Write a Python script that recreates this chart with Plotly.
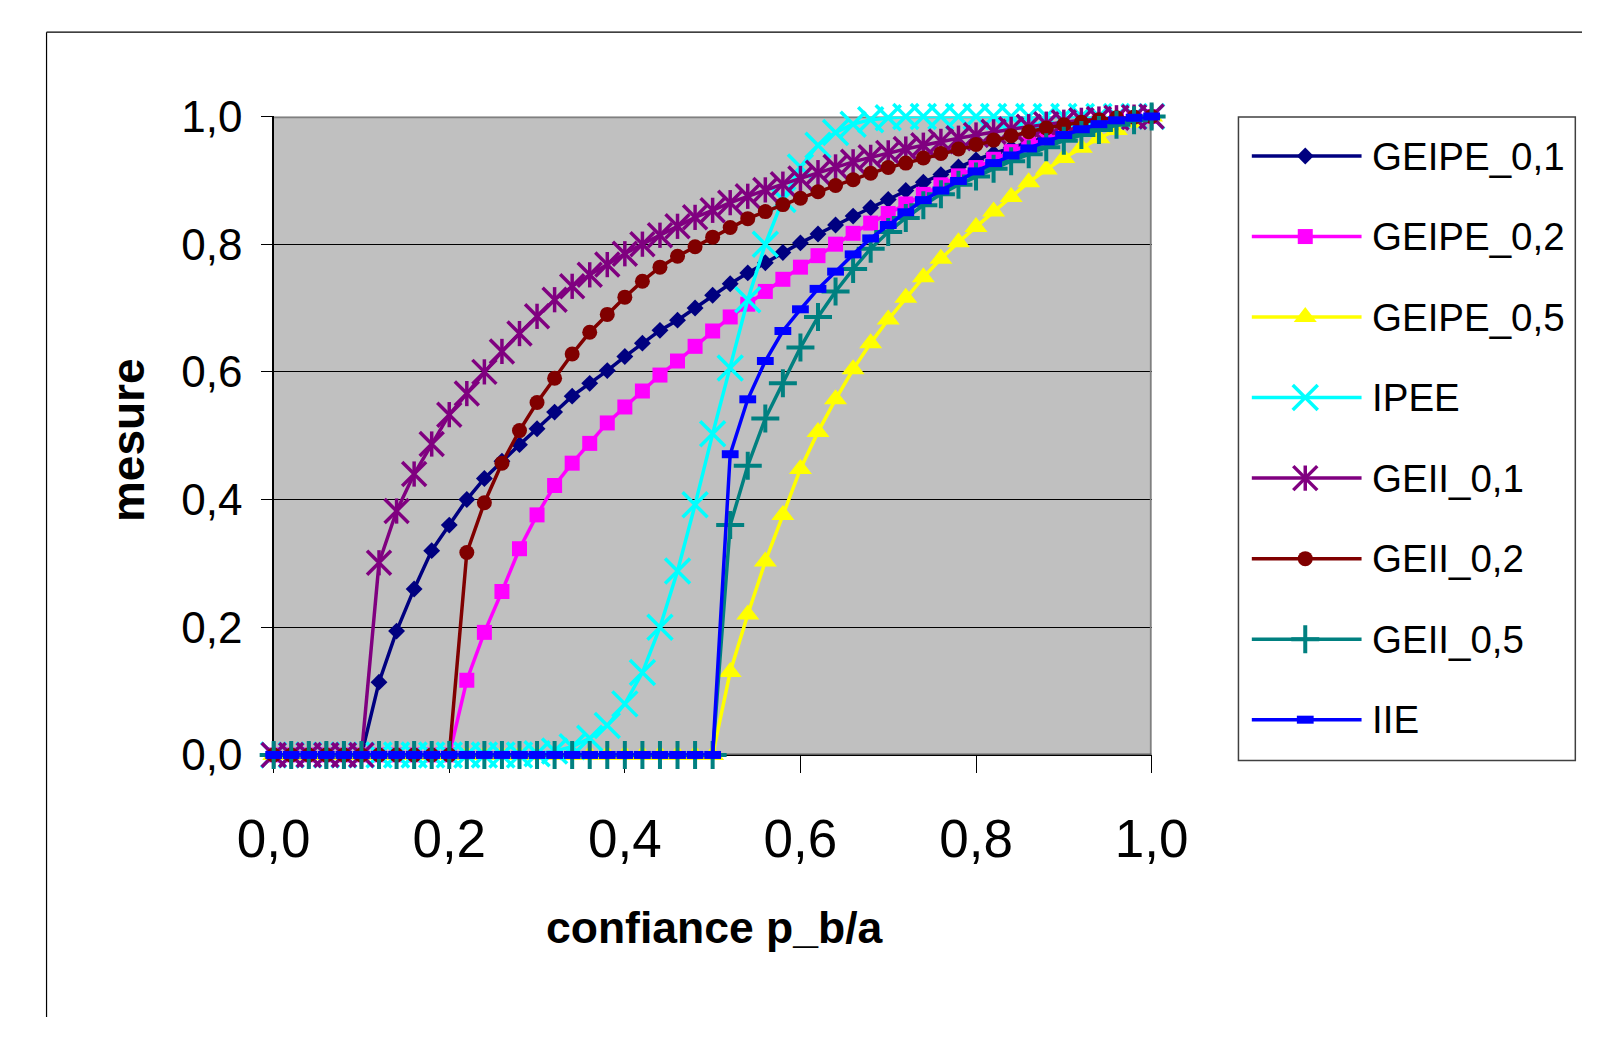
import plotly.graph_objects as go

W, H = 1619, 1041

# ---------------- data ----------------
confiance = [0.00, 0.02, 0.04, 0.06, 0.08, 0.10, 0.12, 0.14, 0.16, 0.18,
             0.20, 0.22, 0.24, 0.26, 0.28, 0.30, 0.32, 0.34, 0.36, 0.38,
             0.40, 0.42, 0.44, 0.46, 0.48, 0.50, 0.52, 0.54, 0.56, 0.58,
             0.60, 0.62, 0.64, 0.66, 0.68, 0.70, 0.72, 0.74, 0.76, 0.78,
             0.80, 0.82, 0.84, 0.86, 0.88, 0.90, 0.92, 0.94, 0.96, 0.98, 1.00]

geipe_01 = [0, 0, 0, 0, 0, 0,
            0.114, 0.194, 0.260, 0.320, 0.360, 0.400, 0.433, 0.460, 0.486, 0.511,
            0.537, 0.562, 0.582, 0.602, 0.624, 0.645, 0.665, 0.681, 0.700, 0.720,
            0.738, 0.755, 0.771, 0.787, 0.802, 0.816, 0.830, 0.844, 0.857, 0.870,
            0.884, 0.897, 0.909, 0.921, 0.932, 0.942, 0.951, 0.960, 0.968, 0.976,
            0.983, 0.989, 0.994, 0.998, 1.000]

geipe_02 = [0, 0, 0, 0, 0, 0, 0, 0, 0, 0, 0,
            0.117, 0.192, 0.256, 0.323, 0.376, 0.422, 0.457, 0.488, 0.520, 0.545,
            0.570, 0.595, 0.617, 0.640, 0.664, 0.686, 0.706, 0.726, 0.745, 0.764,
            0.782, 0.800, 0.817, 0.833, 0.848, 0.863, 0.878, 0.893, 0.907, 0.920,
            0.933, 0.945, 0.956, 0.966, 0.975, 0.983, 0.990, 0.995, 0.998, 1.000]

geipe_05 = [0, 0, 0, 0, 0, 0, 0, 0, 0, 0, 0, 0, 0, 0, 0, 0, 0, 0, 0, 0, 0, 0, 0, 0, 0, 0,
            0.130, 0.220, 0.303, 0.376, 0.448, 0.506, 0.557, 0.604, 0.645, 0.682,
            0.716, 0.748, 0.777, 0.803, 0.827, 0.851, 0.874, 0.897, 0.917, 0.935,
            0.951, 0.966, 0.979, 0.990, 1.000]

ipee = [0, 0, 0, 0, 0, 0, 0, 0, 0, 0, 0, 0, 0, 0, 0,
        0.002, 0.006, 0.013, 0.026, 0.046, 0.080, 0.129, 0.200, 0.288, 0.392,
        0.503, 0.606, 0.713, 0.800, 0.870, 0.921, 0.955, 0.975, 0.988, 0.995,
        0.998, 1.000, 1.000, 1.000, 1.000, 1.000, 1.000, 1.000, 1.000, 1.000,
        1.000, 1.000, 1.000, 1.000, 1.000, 1.000]

geii_01 = [0, 0, 0, 0, 0, 0,
           0.301, 0.382, 0.440, 0.487, 0.533, 0.566, 0.600, 0.632, 0.660, 0.687,
           0.713, 0.734, 0.752, 0.768, 0.785, 0.800, 0.814, 0.828, 0.842, 0.853,
           0.865, 0.875, 0.885, 0.894, 0.903, 0.912, 0.921, 0.929, 0.936, 0.943,
           0.949, 0.955, 0.961, 0.966, 0.971, 0.976, 0.980, 0.984, 0.988, 0.991,
           0.994, 0.996, 0.998, 0.999, 1.000]

geii_02 = [0, 0, 0, 0, 0, 0, 0, 0, 0, 0, 0,
           0.317, 0.395, 0.457, 0.508, 0.552, 0.590, 0.628, 0.662, 0.690, 0.717,
           0.742, 0.764, 0.781, 0.796, 0.811, 0.826, 0.840, 0.851, 0.862, 0.872,
           0.882, 0.892, 0.901, 0.911, 0.920, 0.927, 0.935, 0.942, 0.949, 0.956,
           0.963, 0.970, 0.976, 0.982, 0.987, 0.991, 0.995, 0.998, 0.999, 1.000]

geii_05 = [0, 0, 0, 0, 0, 0, 0, 0, 0, 0, 0, 0, 0, 0, 0, 0, 0, 0, 0, 0, 0, 0, 0, 0, 0, 0,
           0.360, 0.453, 0.527, 0.582, 0.638, 0.686, 0.726, 0.761, 0.793, 0.819,
           0.841, 0.861, 0.878, 0.893, 0.906, 0.918, 0.930, 0.941, 0.952, 0.962,
           0.971, 0.979, 0.987, 0.994, 1.000]

iie = [0, 0, 0, 0, 0, 0, 0, 0, 0, 0, 0, 0, 0, 0, 0, 0, 0, 0, 0, 0, 0, 0, 0, 0, 0, 0,
       0.471, 0.557, 0.617, 0.664, 0.698, 0.730, 0.757, 0.784, 0.809, 0.830,
       0.850, 0.869, 0.884, 0.899, 0.914, 0.927, 0.939, 0.950, 0.961, 0.971,
       0.980, 0.988, 0.994, 0.998, 1.000]

series_names = ["GEIPE_0,1", "GEIPE_0,2", "GEIPE_0,5", "IPEE",
                "GEII_0,1", "GEII_0,2", "GEII_0,5", "IIE"]
series_values = [geipe_01, geipe_02, geipe_05, ipee, geii_01, geii_02, geii_05, iie]

x_tick_values = [0.0, 0.2, 0.4, 0.6, 0.8, 1.0]
x_tick_labels = ["0,0", "0,2", "0,4", "0,6", "0,8", "1,0"]
y_tick_values = [0.0, 0.2, 0.4, 0.6, 0.8, 1.0]
y_tick_labels = ["0,0", "0,2", "0,4", "0,6", "0,8", "1,0"]

x_title = "confiance p_b/a"
y_title = "mesure"

# ---------------- styles ----------------
FONT = "Liberation Sans, Arial, sans-serif"
LW = 3.5
styles = [
    dict(color="#000080", markers=[dict(symbol="diamond", size=13, color="#000080", line=dict(width=0))]),
    dict(color="#FF00FF", markers=[dict(symbol="square", size=15, color="#FF00FF", line=dict(width=0))]),
    dict(color="#FFFF00", markers=[dict(symbol="triangle-up", size=20, color="#FFFF00", line=dict(width=0))]),
    dict(color="#00FFFF", markers=[dict(symbol="x-thin", size=25, color="#00FFFF", line=dict(width=3.5, color="#00FFFF"))]),
    dict(color="#800080", markers=[dict(symbol="x-thin", size=24, color="#800080", line=dict(width=3.5, color="#800080")),
                                   dict(symbol="line-ns", size=18, color="#800080", line=dict(width=3.5, color="#800080"))]),
    dict(color="#800000", markers=[dict(symbol="circle", size=15, color="#800000", line=dict(width=0))]),
    dict(color="#008080", markers=[dict(symbol="cross-thin", size=20, color="#008080", line=dict(width=4, color="#008080"))]),
    dict(color="#0000FF", markers=[dict(symbol="line-ew", size=12, color="#0000FF", line=dict(width=8, color="#0000FF"))]),
]

def px(x):
    return x / W

def py(y):
    return 1 - y / H

# plot area in pixels
PL, PR, PT, PB = 248, 1168, 96, 766
# legend box in pixels
LL, LR, LT, LB = 1259, 1612, 96.5, 771.7
ROW0, ROWSTEP = 137.5, 84.5

fig = go.Figure()

for name, vals, st in zip(series_names, series_values, styles):
    m0 = st["markers"][0]
    fig.add_trace(go.Scatter(
        x=confiance, y=vals, name=name, mode="lines+markers",
        line=dict(color=st["color"], width=LW),
        marker=m0, cliponaxis=False, showlegend=False, hoverinfo="skip"))
    for m in st["markers"][1:]:
        fig.add_trace(go.Scatter(
            x=confiance, y=vals, mode="markers", marker=m,
            cliponaxis=False, showlegend=False, hoverinfo="skip"))

# custom legend drawn on a hidden auxiliary axis pair
for i, (name, st) in enumerate(zip(series_names, styles)):
    fig.add_trace(go.Scatter(
        x=[14, 129], y=[i, i], mode="lines", xaxis="x2", yaxis="y2",
        line=dict(color=st["color"], width=LW), showlegend=False,
        hoverinfo="skip", cliponaxis=False))
    for m in st["markers"]:
        fig.add_trace(go.Scatter(
            x=[70], y=[i], mode="markers", xaxis="x2", yaxis="y2",
            marker=m, showlegend=False, hoverinfo="skip", cliponaxis=False))
    fig.add_annotation(x=138, y=i, xref="x2", yref="y2", text=name,
                       showarrow=False, xanchor="left", yanchor="middle",
                       font=dict(family=FONT, size=38.5, color="black"))

legend_range_top = -(ROW0 - LT) / ROWSTEP
legend_range_bottom = (LB - ROW0) / ROWSTEP

fig.update_layout(
    width=W, height=H,
    margin=dict(l=0, r=0, t=0, b=0),
    paper_bgcolor="white",
    plot_bgcolor="rgba(0,0,0,0)",
    font=dict(family=FONT, color="black"),
    showlegend=False,
    xaxis=dict(domain=[px(PL), px(PR)], range=[0, 1], showgrid=False, zeroline=False,
               tickmode="array", tickvals=x_tick_values, ticktext=x_tick_labels,
               ticks="outside", ticklen=17, tickwidth=1, tickcolor="black",
               tickfont=dict(size=53, family=FONT, color="black"),
               ticklabelstandoff=20,
               showline=True, linecolor="black", linewidth=1.5,
               layer="below traces", fixedrange=True),
    yaxis=dict(domain=[py(PB), py(PT)], range=[0, 1], showgrid=True, gridcolor="black",
               gridwidth=1, zeroline=False,
               tickmode="array", tickvals=y_tick_values, ticktext=y_tick_labels,
               ticks="outside", ticklen=11, tickwidth=1, tickcolor="black",
               tickfont=dict(size=44, family=FONT, color="black"),
               ticklabelstandoff=10,
               showline=True, linecolor="black", linewidth=1.5,
               layer="below traces", fixedrange=True),
    xaxis2=dict(domain=[px(LL), px(LR)], range=[0, LR - LL], visible=False,
                anchor="y2", fixedrange=True),
    yaxis2=dict(domain=[py(LB), py(LT)], range=[legend_range_bottom, legend_range_top],
                visible=False, anchor="x2", fixedrange=True),
)

shapes = [
    # grey plot area background
    dict(type="rect", xref="x", yref="y", x0=0, x1=1, y0=0, y1=1,
         line=dict(width=0), fillcolor="#C0C0C0", layer="below"),
    # plot area border (top, right, bottom) in grey
    dict(type="line", xref="x", yref="y", x0=0, x1=1, y0=1, y1=1,
         line=dict(color="#808080", width=3.5), layer="between"),
    dict(type="line", xref="x", yref="y", x0=1, x1=1, y0=0, y1=1,
         line=dict(color="#808080", width=3.5), layer="between"),
    dict(type="line", xref="x", yref="y", x0=0, x1=1, y0=0, y1=0,
         line=dict(color="#606060", width=3), layer="between"),
    # legend box
    dict(type="rect", xref="paper", yref="paper", x0=px(LL), x1=px(LR), y0=py(LB), y1=py(LT),
         line=dict(color="#404040", width=1.5), fillcolor="white", layer="below"),
    # outer chart frame (only left and top edges are inside the picture)
    dict(type="line", xref="paper", yref="paper", x0=px(10), x1=1, y0=py(7.5), y1=py(7.5),
         line=dict(color="black", width=1.2), layer="below"),
    dict(type="line", xref="paper", yref="paper", x0=px(10), x1=px(10), y0=0, y1=py(7.5),
         line=dict(color="black", width=1.2), layer="below"),
]
fig.update_layout(shapes=shapes)

fig.add_annotation(x=px(96), y=py(436), xref="paper", yref="paper", text="<b>" + y_title + "</b>",
                   textangle=-90, showarrow=False, xanchor="center", yanchor="middle",
                   font=dict(family=FONT, size=46, color="black"))
fig.add_annotation(x=px(710), y=py(947), xref="paper", yref="paper", text="<b>" + x_title + "</b>",
                   showarrow=False, xanchor="center", yanchor="middle",
                   font=dict(family=FONT, size=44.5, color="black"))

fig.write_html("out.html", config=dict(displayModeBar=False, staticPlot=True),
               post_script="document.body.style.margin='0';")
